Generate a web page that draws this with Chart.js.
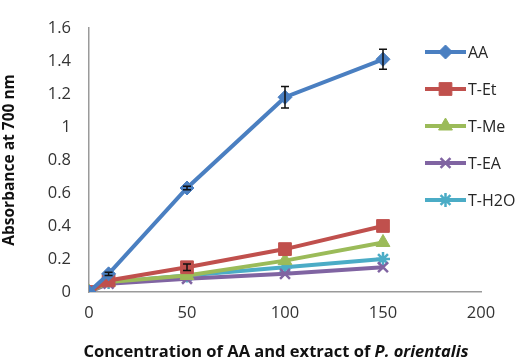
<!DOCTYPE html>
<html lang="en">
<head>
<meta charset="UTF-8">
<title>Absorbance chart</title>
<script src="https://cdn.jsdelivr.net/npm/chart.js"></script>
<style>
  html, body { margin: 0; padding: 0; background: #fff; }
  #wrap { width: 527px; height: 361px; position: relative; }
</style>
</head>
<body>
<div id="wrap"><canvas id="grafico"></canvas></div>
<script>
// concentrations (x)
const concentracoes = [0, 10, 50, 100, 150];

// absorbance values
const valoresAA   = [0, 0.11, 0.63, 1.18, 1.41];
const valoresEt   = [0, 0.07, 0.15, 0.26, 0.40];
const valoresMe   = [0, 0.06, 0.10, 0.19, 0.30];
const valoresEA   = [0, 0.05, 0.08, 0.11, 0.15];
const valoresH2O  = [0, 0.06, 0.10, 0.15, 0.20];

// error bars (only the visible ones)
const errosAA  = [0, 0.01, 0.01, 0.065, 0.06];
const errosEt  = [0, 0, 0.02, 0, 0];

const nomes = ['AA', 'T-Et', 'T-Me', 'T-EA', 'T-H2O'];
const cores = ['#4a7fc1', '#c0504d', '#9bbb59', '#8064a2', '#4bacc6'];
const estilos = ['rectRot', 'rect', 'triangle', 'crossRot', 'star'];
const raios = [7, 9, 8, 7, 7];

const yTicks = [0, 0.2, 0.4, 0.6, 0.8, 1, 1.2, 1.4, 1.6];
const xTicks = [0, 50, 100, 150, 200];

function pontos(vals) {
    return vals.map((v, i) => ({ x: concentracoes[i], y: v }));
}

const series = [valoresAA, valoresEt, valoresMe, valoresEA, valoresH2O];
const erros = [errosAA, errosEt, null, null, null];

const datasets = series.map((vals, i) => ({
    label: nomes[i],
    data: pontos(vals),
    borderColor: cores[i],
    backgroundColor: cores[i],
    borderWidth: 4,
    pointStyle: estilos[i],
    pointRadius: raios[i],
    pointBorderWidth: (estilos[i] == 'crossRot' || estilos[i] == 'star') ? 2.5 : 1,
    pointBorderColor: cores[i],
    pointBackgroundColor: cores[i],
    tension: 0
}));

// error bars drawn through the scales
const barrasErro = {
    id: 'barrasErro',
    afterDatasetsDraw(chart) {
        const ctx = chart.ctx;
        const sx = chart.scales.x, sy = chart.scales.y;
        ctx.save();
        ctx.strokeStyle = '#111';
        ctx.lineWidth = 1.5;
        erros.forEach((errs, d) => {
            if (!errs) return;
            errs.forEach((e, i) => {
                if (!e) return;
                const x = sx.getPixelForValue(concentracoes[i]);
                const y1 = sy.getPixelForValue(series[d][i] + e);
                const y2 = sy.getPixelForValue(series[d][i] - e);
                ctx.beginPath();
                ctx.moveTo(x, y1); ctx.lineTo(x, y2);
                ctx.moveTo(x - 4, y1); ctx.lineTo(x + 4, y1);
                ctx.moveTo(x - 4, y2); ctx.lineTo(x + 4, y2);
                ctx.stroke();
            });
        });
        ctx.restore();
    }
};

// legend with line + marker, and the x title with italic part
const legendaTitulo = {
    id: 'legendaTitulo',
    afterDraw(chart) {
        const ctx = chart.ctx;
        ctx.save();
        const x0 = 425, x1 = 466, tx = 468;
        const ys = [52, 89, 126, 163, 200];
        nomes.forEach((n, i) => {
            const y = ys[i];
            ctx.strokeStyle = cores[i];
            ctx.lineWidth = 4;
            ctx.beginPath();
            ctx.moveTo(x0, y); ctx.lineTo(x1, y);
            ctx.stroke();
            ctx.lineWidth = (estilos[i] == 'crossRot' || estilos[i] == 'star') ? 2.5 : 1;
            ctx.fillStyle = cores[i];
            Chart.helpers.drawPoint(ctx, { pointStyle: estilos[i], radius: raios[i], borderWidth: ctx.lineWidth }, (x0 + x1) / 2, y);
            ctx.fillStyle = '#262626';
            ctx.font = '16px "Open Sans"';
            ctx.textBaseline = 'middle';
            ctx.textAlign = 'left';
            ctx.fillText(n, tx, y + 1);
        });

        // x axis title
        const parte1 = 'Concentration of AA and extract of ';
        const parte2 = 'P. orientalis';
        const f1 = 'bold 16.5px "Open Sans"';
        const f2 = 'italic bold 16.5px "Open Sans"';
        ctx.font = f1;
        const w1 = ctx.measureText(parte1).width;
        ctx.font = f2;
        const w2 = ctx.measureText(parte2).width;
        const cx = 276;
        let sx = cx - (w1 + w2) / 2;
        ctx.fillStyle = '#111';
        ctx.textBaseline = 'middle';
        ctx.font = f1;
        ctx.fillText(parte1, sx, 352);
        ctx.font = f2;
        ctx.fillText(parte2, sx + w1, 352);
        ctx.restore();
    }
};

const config = {
    type: 'line',
    data: { datasets: datasets },
    options: {
        responsive: true,
        maintainAspectRatio: false,
        animation: false,
        layout: { padding: { top: 20, right: 46, left: 0, bottom: 0 } },
        plugins: {
            legend: { display: false },
            tooltip: { enabled: false }
        },
        scales: {
            x: {
                type: 'linear',
                min: 0,
                max: 200,
                afterFit: (s) => { s.height = 69; },
                afterBuildTicks: (s) => { s.ticks = xTicks.map(v => ({ value: v })); },
                grid: { display: false, drawTicks: false },
                border: { display: true, color: '#9a9a9a', width: 1.5 },
                ticks: { color: '#333', font: { family: 'Open Sans', size: 16.5 }, padding: 11 }
            },
            y: {
                min: 0,
                max: 1.6,
                afterFit: (s) => { s.width = 89; },
                afterBuildTicks: (s) => { s.ticks = yTicks.map(v => ({ value: v })); },
                grid: { display: false, drawTicks: false },
                border: { display: true, color: '#9a9a9a', width: 1.5 },
                ticks: {
                    color: '#333',
                    font: { family: 'Open Sans', size: 16.5 },
                    padding: 18,
                    callback: (v) => Number(v.toFixed(1)).toString()
                },
                title: {
                    display: true,
                    text: 'Absorbance at 700 nm',
                    color: '#111',
                    font: { family: 'Open Sans', size: 15.5, weight: 'bold' },
                    padding: { top: 0, bottom: 0 }
                }
            }
        }
    },
    plugins: [barrasErro, legendaTitulo]
};

new Chart(document.getElementById('grafico'), config);
</script>
</body>
</html>
